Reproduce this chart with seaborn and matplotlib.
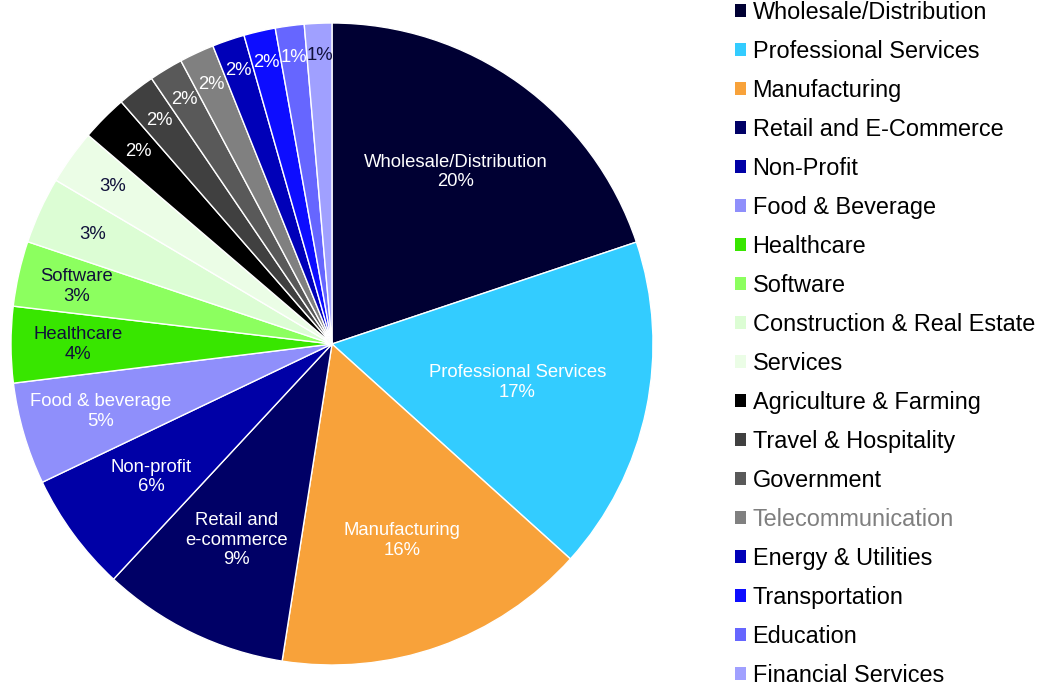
import numpy as np
import matplotlib
matplotlib.use("Agg")
import matplotlib.pyplot as plt
import matplotlib.patches as mpatches
import seaborn as sns

sns.set_theme(style="white")
plt.rcParams['font.family'] = ['Liberation Sans', 'DejaVu Sans']

# legend names, in slice order
industries = ['Wholesale/Distribution', 'Professional Services', 'Manufacturing',
              'Retail and E-Commerce', 'Non-Profit', 'Food & Beverage', 'Healthcare',
              'Software', 'Construction & Real Estate', 'Services',
              'Agriculture & Farming', 'Travel & Hospitality', 'Government',
              'Telecommunication', 'Energy & Utilities', 'Transportation',
              'Education', 'Financial Services']

# share of respondents (%)
shares = [19.86, 16.82, 15.81, 9.43, 6.00, 5.14, 3.83, 3.28, 3.36, 2.75,
          2.33, 1.90, 1.70, 1.75, 1.63, 1.59, 1.45, 1.38]

# names written inside the slices (blank -> percent only)
slice_names = ['Wholesale/Distribution', 'Professional Services', 'Manufacturing',
               'Retail and\ne-commerce', 'Non-profit', 'Food & beverage', 'Healthcare',
               'Software', '', '', '', '', '', '', '', '', '', '']

colors = ['#000033', '#33ccff', '#f8a23a', '#000066', '#0000a6', '#8f8ffb',
          '#38e600', '#8cff5f', '#dcfdd4', '#ebfde6', '#000000', '#404040',
          '#595959', '#808080', '#0000b8', '#0d0dff', '#6666ff', '#a0a0ff']

text_colors = ['white'] * 6 + ['#10103a'] * 4 + ['white'] * 7 + ['#10103a']
label_radius = [0.66, 0.59, 0.65, 0.68, 0.70, 0.75, 0.79, 0.815, 0.82, 0.84,
                0.85, 0.88, 0.89, 0.89, 0.90, 0.90, 0.90, 0.90]

fig = plt.figure(figsize=(10.6, 6.87), dpi=100)
ax = fig.add_axes([11 / 1060, 22 / 687, 642 / 1060, 642 / 687])

wedges, _ = ax.pie(shares, colors=colors, startangle=90, counterclock=False,
                   radius=1, wedgeprops=dict(edgecolor='white', linewidth=1))

total = sum(shares)
for w, name, val, tc, r in zip(wedges, slice_names, shares, text_colors, label_radius):
    mid = np.deg2rad((w.theta1 + w.theta2) / 2)
    pct = f"{round(val / total * 100):.0f}%"
    txt = f"{name}\n{pct}" if name else pct
    ax.text(r * np.cos(mid), r * np.sin(mid), txt, ha='center', va='center',
            color=tc, fontsize=13.3, linespacing=1.2)

ax.set_xlim(-1, 1)
ax.set_ylim(-1, 1)
ax.set_aspect('equal')
ax.axis('off')

handles = [mpatches.Patch(facecolor=c, edgecolor='none', label=n)
           for c, n in zip(colors, industries)]
leg = fig.legend(handles=handles, loc='upper left', bbox_to_anchor=(735 / 1060, 0.999),
                 frameon=False, fontsize=16.9, handlelength=0.47, handleheight=0.47,
                 handletextpad=0.28, labelspacing=0.683, borderpad=0, borderaxespad=0)
for t in leg.get_texts():
    t.set_color('black')
    if t.get_text() == 'Telecommunication':
        t.set_color('#7f7f7f')

fig.savefig('out.png', dpi=100)
